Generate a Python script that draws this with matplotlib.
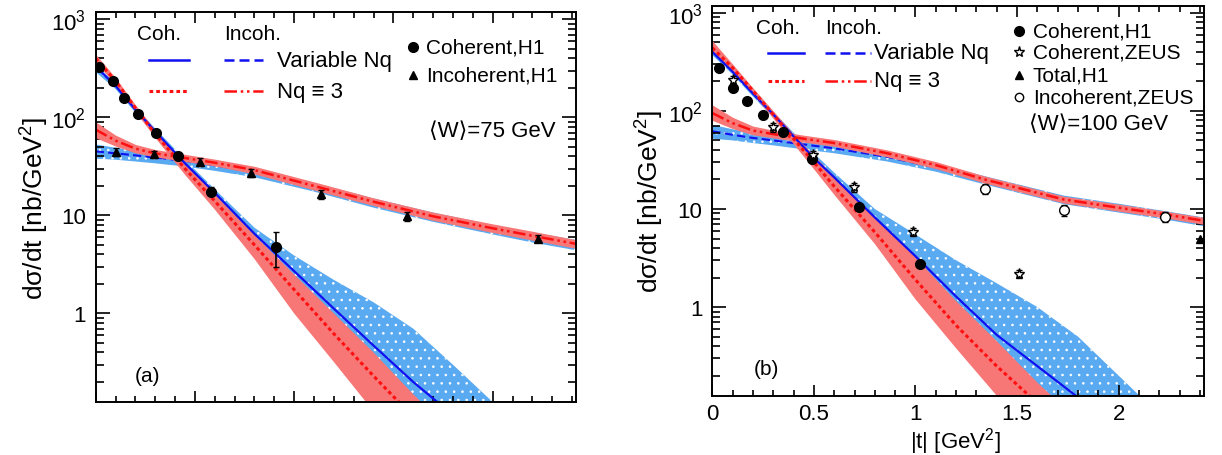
import matplotlib
matplotlib.use("Agg")
import matplotlib.pyplot as plt
from matplotlib.ticker import FixedLocator, FixedFormatter, MultipleLocator, NullFormatter

plt.rcParams['font.family'] = ['Liberation Sans', 'DejaVu Sans']
plt.rcParams['mathtext.fontset'] = 'custom'
plt.rcParams['mathtext.rm'] = 'Liberation Sans'
plt.rcParams['mathtext.it'] = 'Liberation Sans:italic'
plt.rcParams['hatch.color'] = 'white'
plt.rcParams['hatch.linewidth'] = 0.6

# ---------------- panel (a): <W> = 75 GeV ----------------
t_coh_a = [0, 0.1, 0.2, 0.3, 0.45, 0.6, 0.8, 1.0, 1.2, 1.4, 1.6, 1.8, 2.0, 2.2]
varnq_coh_a = [330, 210, 120, 72, 34, 17, 6.5, 2.7, 1.12, 0.47, 0.20, 0.092, 0.042, 0.02]
varnq_coh_a_lo = [290, 195, 112, 66, 31, 15, 5.0, 1.6, 0.52, 0.10, 0.03, 0.01, 0.005, 0.002]
varnq_coh_a_hi = [345, 225, 128, 77, 37, 18.5, 7.5, 3.9, 2.2, 1.3, 0.7, 0.3, 0.125, 0.05]
nq3_coh_a = [400, 235, 125, 68, 30, 14, 5.0, 1.75, 0.62, 0.23, 0.088, 0.035, 0.014, 0.006]
nq3_coh_a_lo = [360, 220, 115, 62, 26, 11.5, 3.6, 1.0, 0.32, 0.10, 0.035, 0.013, 0.005, 0.002]
nq3_coh_a_hi = [440, 255, 135, 74, 34, 16.5, 6.3, 2.5, 1.0, 0.4, 0.15, 0.06, 0.024, 0.01]

t_inc_a = [0, 0.1, 0.2, 0.3, 0.45, 0.6, 0.8, 1.1, 1.4, 1.7, 2.0, 2.2, 2.45]
varnq_inc_a = [45, 43, 41, 39, 36, 32.5, 27.5, 19.5, 13.4, 9.6, 7.2, 6.0, 4.85]
varnq_inc_a_lo = [38, 37, 35.5, 34, 31.5, 28.5, 24.5, 17.5, 12.0, 8.6, 6.4, 5.3, 4.3]
varnq_inc_a_hi = [53, 49, 46, 44, 40, 36, 30.5, 21.5, 14.9, 10.7, 8.0, 6.7, 5.5]
nq3_inc_a = [75, 58, 48, 43, 38.5, 34.5, 29, 20, 13.8, 9.8, 7.4, 6.2, 5.0]
nq3_inc_a_lo = [62, 51, 43.5, 39.5, 35.5, 32, 26.5, 18.2, 12.6, 8.9, 6.7, 5.6, 4.5]
nq3_inc_a_hi = [90, 66, 53, 47, 42, 37.5, 31.7, 22, 15.1, 10.8, 8.2, 6.9, 5.5]

h1_coh_a_t = [0.019, 0.085, 0.145, 0.212, 0.304, 0.415, 0.583, 0.907]
h1_coh_a = [326, 234, 157, 109, 68.7, 40.3, 17.5, 4.8]
h1_coh_a_elo = [8, 6, 4, 3, 2, 1.5, 1.5, 1.8]
h1_coh_a_ehi = [8, 6, 4, 3, 2, 1.5, 2.0, 1.9]
h1_inc_a_t = [0.102, 0.292, 0.525, 0.783, 1.136, 1.566, 2.23]
h1_inc_a = [44.3, 41.9, 35.3, 27.3, 16.4, 9.8, 5.8]
h1_inc_a_err = [4.0, 3.8, 3.5, 2.6, 1.8, 1.1, 0.5]

# ---------------- panel (b): <W> = 100 GeV ----------------
t_coh_b = [0, 0.1, 0.2, 0.3, 0.4, 0.5, 0.6, 0.8, 1.0, 1.2, 1.4, 1.6, 1.8, 2.0, 2.2]
varnq_coh_b = [400, 250, 150, 92, 55, 33, 21, 8.2, 3.3, 1.28, 0.52, 0.25, 0.12, 0.058, 0.028]
varnq_coh_b_lo = [370, 235, 140, 85, 50, 30, 18.5, 6.5, 2.2, 0.7, 0.14, 0.04, 0.012, 0.004, 0.002]
varnq_coh_b_hi = [420, 265, 158, 98, 60, 37, 23.5, 10.0, 5.5, 3.0, 1.75, 1.0, 0.5, 0.2, 0.08]
nq3_coh_b = [440, 275, 160, 92, 52, 30, 17, 5.8, 1.9, 0.65, 0.25, 0.105, 0.045, 0.02, 0.008]
nq3_coh_b_lo = [400, 255, 148, 84, 46, 25.5, 14, 4.4, 1.2, 0.38, 0.125, 0.05, 0.02, 0.008, 0.003]
nq3_coh_b_hi = [520, 300, 172, 100, 58, 35, 21.5, 8.2, 3.2, 1.15, 0.45, 0.17, 0.07, 0.03, 0.012]

t_inc_b = [0, 0.1, 0.2, 0.3, 0.45, 0.6, 0.86, 1.1, 1.34, 1.73, 2.0, 2.23, 2.45]
varnq_inc_b = [62, 57, 53, 50, 45.5, 41.5, 34, 26.5, 19.6, 12.4, 10.2, 8.6, 7.2]
varnq_inc_b_lo = [52, 50, 47, 44.5, 40.5, 37, 30.5, 24, 17.8, 11.2, 9.2, 7.8, 6.5]
varnq_inc_b_hi = [72, 65, 60, 56, 51, 46.5, 38, 29.2, 21.6, 13.7, 11.3, 9.5, 8.0]
nq3_inc_b = [95, 75, 63, 58, 52, 47, 37, 28, 20, 12.5, 10.3, 8.8, 7.4]
nq3_inc_b_lo = [80, 66, 57, 53, 48, 43.5, 34, 25.8, 18.4, 11.5, 9.5, 8.1, 6.8]
nq3_inc_b_hi = [115, 86, 70, 63.5, 56.5, 51, 40, 30.4, 21.7, 13.5, 11.2, 9.5, 8.0]

h1_coh_b_t = [0.033, 0.102, 0.169, 0.248, 0.350, 0.490, 0.723, 1.023]
h1_coh_b = [273, 173, 126, 91, 60.6, 32.3, 10.5, 2.77]
zeus_coh_b_t = [0.103, 0.30, 0.495, 0.695, 0.99, 1.51]
zeus_coh_b = [207, 68, 35.5, 16.6, 5.85, 2.19]
zeus_inc_b_t = [1.34, 1.73, 2.23]
zeus_inc_b = [16.0, 9.7, 8.3]
h1_tot_b_t = [2.40]
h1_tot_b = [5.0]

BLUE_BAND = '#5aaaf2'
RED_BAND = '#f77676'
BLUE = '#1010f0'
RED = '#ff1010'
DOTTED = (0, (1.2, 1.0))
DASHED = (0, (4, 2))
DASHDOT = (0, (5, 1.5, 1, 1.5, 1, 1.5))


def draw_theory(ax, t_c, v_c, v_c_lo, v_c_hi, r_c, r_c_lo, r_c_hi,
                t_i, v_i, v_i_lo, v_i_hi, r_i, r_i_lo, r_i_hi):
    ax.fill_between(t_c, v_c_lo, v_c_hi, facecolor=BLUE_BAND, edgecolor='white',
                    hatch='..', linewidth=0, zorder=1)
    ax.fill_between(t_i, v_i_lo, v_i_hi, facecolor=BLUE_BAND, edgecolor='white',
                    hatch='..', linewidth=0, zorder=1)
    ax.plot(t_i, v_i, color=BLUE, ls=DASHED, lw=1.5, zorder=1.5)
    ax.fill_between(t_c, r_c_lo, r_c_hi, color=RED_BAND, linewidth=0, zorder=2)
    ax.fill_between(t_i, r_i_lo, r_i_hi, color=RED_BAND, linewidth=0, zorder=2)
    ax.plot(t_c, v_c, color=BLUE, ls='-', lw=1.6, zorder=3)
    ax.plot(t_c, r_c, color=RED, ls=DOTTED, lw=2.2, zorder=3)
    ax.plot(t_i, r_i, color=RED, ls=DASHDOT, lw=1.8, zorder=3)


def style_axes(ax, show_x):
    ax.set_yscale('log')
    ax.set_xlim(0, 2.42)
    ax.set_ylim(0.125, 1180)
    ax.yaxis.set_major_locator(FixedLocator([1, 10, 100, 1000]))
    ax.yaxis.set_major_formatter(FixedFormatter(['1', '10', r'$10^{2}$', r'$10^{3}$']))
    minors = [m * d for d in [0.1, 1, 10, 100] for m in range(2, 10)]
    ax.yaxis.set_minor_locator(FixedLocator(minors))
    ax.yaxis.set_minor_formatter(NullFormatter())
    ax.xaxis.set_major_locator(MultipleLocator(0.5))
    ax.xaxis.set_minor_locator(MultipleLocator(0.1))
    ax.tick_params(which='both', direction='in', top=True, right=True,
                   width=1.2, labelsize=16, pad=7)
    ax.tick_params(which='major', length=10)
    ax.tick_params(which='minor', length=5.5)
    ax.tick_params(axis='x', which='major', length=8, pad=5)
    ax.tick_params(axis='x', which='minor', length=4.5)
    if show_x:
        ax.set_xticks([0, 0.5, 1, 1.5, 2])
        ax.set_xticklabels(['0', '0.5', '1', '1.5', '2'])
    else:
        ax.tick_params(axis='x', labelbottom=False)
    for s in ax.spines.values():
        s.set_linewidth(1.4)
        s.set_zorder(10)
    ax.text(-0.126, 0.5, 'dσ/dt [nb/GeV$^2$]', transform=ax.transAxes,
            rotation=90, ha='center', va='center', fontsize=19)


def draw_keys(ax, xc, xi, xtxt, y1, y2):
    tr = ax.transAxes
    ax.text(xc[0] - 0.024, 0.945, 'Coh.', transform=tr, fontsize=15, va='center')
    ax.text(xi[0], 0.945, 'Incoh.', transform=tr, fontsize=15, va='center')
    ax.plot(xc, [y1, y1], color=BLUE, ls='-', lw=1.8, transform=tr)
    ax.plot(xi, [y1, y1], color=BLUE, ls=DASHED, lw=1.8, transform=tr)
    ax.plot(xc, [y2, y2], color=RED, ls=DOTTED, lw=2.2, transform=tr)
    ax.plot(xi, [y2, y2], color=RED, ls=DASHDOT, lw=1.8, transform=tr)
    ax.text(xtxt, y1, 'Variable Nq', transform=tr, fontsize=16, va='center')
    ax.text(xtxt, y2, 'Nq ≡ 3', transform=tr, fontsize=16, va='center')


fig = plt.figure(figsize=(12.22, 4.56), dpi=100)
ax1 = fig.add_axes([0.0783, 0.1162, 0.3931, 0.8546])
ax2 = fig.add_axes([0.5829, 0.1300, 0.4024, 0.8553])

# panel (a)
draw_theory(ax1, t_coh_a, varnq_coh_a, varnq_coh_a_lo, varnq_coh_a_hi,
            nq3_coh_a, nq3_coh_a_lo, nq3_coh_a_hi,
            t_inc_a, varnq_inc_a, varnq_inc_a_lo, varnq_inc_a_hi,
            nq3_inc_a, nq3_inc_a_lo, nq3_inc_a_hi)
ax1.errorbar(h1_coh_a_t, h1_coh_a, yerr=[h1_coh_a_elo, h1_coh_a_ehi], fmt='o',
             color='black', ms=7, capsize=2.5, elinewidth=1.2, zorder=5)
ax1.errorbar(h1_inc_a_t, h1_inc_a, yerr=h1_inc_a_err, fmt='^',
             color='black', ms=6, capsize=2.5, elinewidth=1.2, zorder=5)
style_axes(ax1, False)
draw_keys(ax1, [0.111, 0.194], [0.267, 0.348], 0.378, 0.877, 0.797)
ax1.plot([0.66], [0.911], 'o', color='black', ms=7, transform=ax1.transAxes)
ax1.plot([0.66], [0.839], '^', color='black', ms=6, transform=ax1.transAxes)
ax1.text(0.688, 0.911, 'Coherent,H1', transform=ax1.transAxes, fontsize=15, va='center')
ax1.text(0.688, 0.839, 'Incoherent,H1', transform=ax1.transAxes, fontsize=15, va='center')
ax1.text(0.694, 0.697, '⟨W⟩=75 GeV', transform=ax1.transAxes, fontsize=16, va='center')
ax1.text(0.082, 0.067, '(a)', transform=ax1.transAxes, fontsize=15, va='center')

# panel (b)
draw_theory(ax2, t_coh_b, varnq_coh_b, varnq_coh_b_lo, varnq_coh_b_hi,
            nq3_coh_b, nq3_coh_b_lo, nq3_coh_b_hi,
            t_inc_b, varnq_inc_b, varnq_inc_b_lo, varnq_inc_b_hi,
            nq3_inc_b, nq3_inc_b_lo, nq3_inc_b_hi)
ax2.plot(h1_coh_b_t, h1_coh_b, 'o', color='black', ms=7, zorder=5)
ax2.errorbar(zeus_coh_b_t, zeus_coh_b, yerr=[v * 0.1 for v in zeus_coh_b], fmt='*',
             color='black', mfc='white', mec='black', ms=8, capsize=2.5,
             elinewidth=1.2, zorder=5)
ax2.errorbar(zeus_inc_b_t, zeus_inc_b, yerr=[v * 0.12 for v in zeus_inc_b], fmt='o',
             color='black', mfc='white', mec='black', ms=7, capsize=2.5,
             elinewidth=1.2, zorder=5)
ax2.plot(h1_tot_b_t, h1_tot_b, '^', color='black', ms=6, zorder=5)
style_axes(ax2, True)
draw_keys(ax2, [0.113, 0.186], [0.229, 0.322], 0.329, 0.880, 0.808)
tr = ax2.transAxes
ax2.plot([0.624], [0.936], 'o', color='black', ms=7, transform=tr)
ax2.plot([0.624], [0.881], '*', color='black', mfc='white', ms=8, transform=tr)
ax2.plot([0.624], [0.822], '^', color='black', ms=6, transform=tr)
ax2.plot([0.624], [0.766], 'o', color='black', mfc='white', ms=6, transform=tr)
ax2.text(0.652, 0.936, 'Coherent,H1', transform=tr, fontsize=15, va='center')
ax2.text(0.652, 0.881, 'Coherent,ZEUS', transform=tr, fontsize=15, va='center')
ax2.text(0.652, 0.822, 'Total,H1', transform=tr, fontsize=15, va='center')
ax2.text(0.652, 0.766, 'Incoherent,ZEUS', transform=tr, fontsize=15, va='center')
ax2.text(0.644, 0.697, '⟨W⟩=100 GeV', transform=tr, fontsize=16, va='center')
ax2.text(0.085, 0.071, '(b)', transform=tr, fontsize=15, va='center')
ax2.text(0.494, -0.115, '|t| [GeV$^2$]', transform=tr, fontsize=16,
         ha='center', va='center')

fig.savefig('out.png', dpi=100)
